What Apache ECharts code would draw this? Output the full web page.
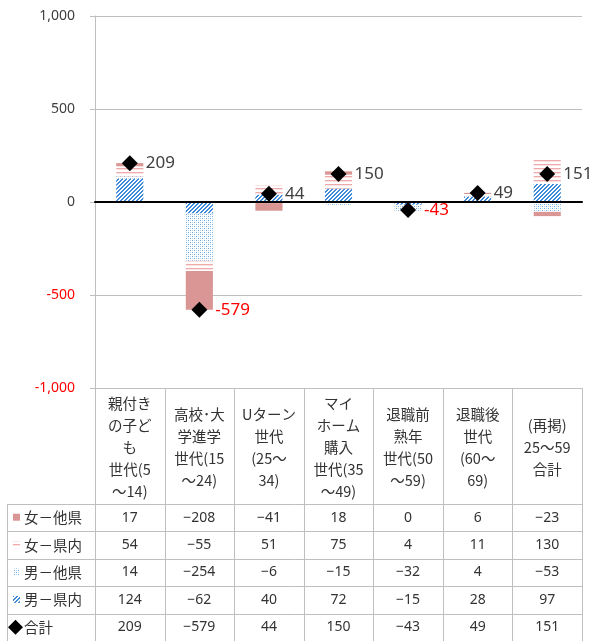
<!DOCTYPE html>
<html>
<head>
<meta charset="utf-8">
<script src="https://cdn.jsdelivr.net/npm/echarts@6/dist/echarts.min.js"></script>
<style>
    html, body { margin: 0; padding: 0; background: #fff; }
    #main { width: 594px; height: 641px; }
</style>
</head>
<body>
<div id="main"></div>
<script>
    // 世代区分（表の見出し）
    const categories = [
        '親付き\nの子ど\nも\n世代(5\n～14)',
        '高校･大\n学進学\n世代(15\n～24)',
        'Uターン\n世代\n(25～\n34)',
        'マイ\nホーム\n購入\n世代(35\n～49)',
        '退職前\n熟年\n世代(50\n～59)',
        '退職後\n世代\n(60～\n69)',
        '(再掲)\n25～59\n合計'
    ];
    const femaleOther = [17, -208, -41, 18, 0, 6, -23];   // 女－他県
    const femaleIn    = [54, -55, 51, 75, 4, 11, 130];     // 女－県内
    const maleOther   = [14, -254, -6, -15, -32, 4, -53];  // 男－他県
    const maleIn      = [124, -62, 40, 72, -15, 28, 97];   // 男－県内
    const total       = [209, -579, 44, 150, -43, 49, 151]; // 合計
    const rowNames = ['女－他県', '女－県内', '男－他県', '男－県内', '合計'];

    const FONT = 'Noto Sans, Noto Sans CJK JP, sans-serif';
    const JP = 'Noto Sans CJK JP, sans-serif';

    // 柄（パターン）
    function makePattern(w, h, draw) {
        const c = document.createElement('canvas');
        c.width = w; c.height = h;
        const ctx = c.getContext('2d');
        ctx.fillStyle = '#fff';
        ctx.fillRect(0, 0, w, h);
        draw(ctx);
        return {image: c, repeat: 'repeat'};
    }
    const solidPink = '#D99694';
    const linesPink = makePattern(1, 4, ctx => {
        ctx.fillStyle = '#EEAAAA';
        ctx.fillRect(0, 0, 1, 1);
        ctx.fillStyle = '#FBE3E3';
        ctx.fillRect(0, 1, 1, 1);
    });
    const dotsBlue = makePattern(4, 4, ctx => {
        ctx.fillStyle = '#6AAAE6';
        ctx.fillRect(0, 0, 1, 1);
        ctx.fillRect(2, 2, 1, 1);
        ctx.fillStyle = '#BBD8F3';
        ctx.fillRect(2, 0, 1, 1);
        ctx.fillRect(0, 2, 1, 1);
    });
    const diagBlue = makePattern(4, 4, ctx => {
        ctx.fillStyle = '#3D8BDA';
        for (let x = 0; x < 4; x++) {
            for (let y = 0; y < 4; y++) {
                if ((x + y) % 4 < 2) ctx.fillRect(x, y, 1, 1);
            }
        }
    });

    const chart = echarts.init(document.getElementById('main'));

    function fmt(v) {
        return echarts.format.addCommas(v);
    }

    chart.setOption({
        animation: false,
        grid: {left: 95, right: 12, top: 16, bottom: 253},
        xAxis: {
            type: 'category',
            data: categories,
            axisLine: {onZero: true, lineStyle: {color: '#000', width: 2}},
            axisTick: {show: false},
            axisLabel: {show: false},
            z: 5
        },
        yAxis: {
            type: 'value',
            min: -1000,
            max: 1000,
            interval: 500,
            axisLine: {show: true, lineStyle: {color: '#BFBFBF'}},
            axisTick: {show: true, length: 5, lineStyle: {color: '#BFBFBF'}},
            splitLine: {lineStyle: {color: '#BFBFBF'}},
            axisLabel: {
                margin: 20,
                fontFamily: FONT,
                fontSize: 14,
                formatter: v => v < 0 ? '{r|' + fmt(v) + '}' : '{b|' + fmt(v) + '}',
                rich: {
                    r: {color: '#FF0000', fontSize: 14, fontFamily: FONT},
                    b: {color: '#404040', fontSize: 14, fontFamily: FONT}
                }
            }
        },
        series: [
            {name: '男－県内', type: 'bar', stack: 'a', barWidth: '39%', data: maleIn, itemStyle: {color: diagBlue}},
            {name: '男－他県', type: 'bar', stack: 'a', data: maleOther, itemStyle: {color: dotsBlue}},
            {name: '女－県内', type: 'bar', stack: 'a', data: femaleIn, itemStyle: {color: linesPink}},
            {name: '女－他県', type: 'bar', stack: 'a', data: femaleOther, itemStyle: {color: solidPink}},
            {
                name: '合計',
                type: 'line',
                z: 10,
                lineStyle: {width: 0, opacity: 0},
                symbol: 'diamond',
                symbolSize: 16,
                itemStyle: {color: '#000'},
                label: {
                    show: true,
                    position: 'right',
                    distance: 8,
                    fontFamily: FONT,
                    fontSize: 17
                },
                data: total.map(v => ({value: v, label: {color: v < 0 ? '#FF0000' : '#404040'}}))
            }
        ]
    });

    // データテーブル
    function drawTable() {
        const xs = categories.map((c, i) => chart.convertToPixel({xAxisIndex: 0}, i));
        const bw = xs[1] - xs[0];
        const left = xs[0] - bw / 2;
        const right = xs[xs.length - 1] + bw / 2;
        const top = chart.convertToPixel({yAxisIndex: 0}, -1000);
        const headBottom = 504;
        const rowH = 27.4;
        const bottom = 641;
        const labelLeft = 7;
        const lineColor = '#BFBFBF';
        const els = [];

        for (let i = 0; i <= categories.length; i++) {
            const x = Math.round(left + i * bw) + 0.5;
            els.push({type: 'line', shape: {x1: x, y1: top, x2: x, y2: bottom}, style: {stroke: lineColor, lineWidth: 1}});
        }
        els.push({type: 'line', shape: {x1: labelLeft + 0.5, y1: headBottom, x2: labelLeft + 0.5, y2: bottom}, style: {stroke: lineColor, lineWidth: 1}});
        for (let r = 0; r < rowNames.length; r++) {
            const y = Math.round(headBottom + r * rowH) + 0.5;
            els.push({type: 'line', shape: {x1: labelLeft, y1: y, x2: right, y2: y}, style: {stroke: lineColor, lineWidth: 1}});
        }

        // 見出し
        categories.forEach((c, i) => {
            els.push({
                type: 'text',
                x: xs[i], y: (top + headBottom) / 2 + 1,
                style: {text: c, fontFamily: JP, fontSize: 14.5, lineHeight: 22, fill: '#333', align: 'center', verticalAlign: 'middle'}
            });
        });

        const rows = [femaleOther, femaleIn, maleOther, maleIn, total];
        const keys = [solidPink, linesPink, dotsBlue, diagBlue, null];
        rows.forEach((vals, r) => {
            const cy = headBottom + r * rowH + rowH / 2;
            vals.forEach((v, i) => {
                els.push({
                    type: 'text',
                    x: xs[i], y: cy,
                    style: {text: String(v).replace('-', '−'), fontFamily: FONT, fontSize: 14, fill: '#333', align: 'center', verticalAlign: 'middle'}
                });
            });
            if (keys[r]) {
                els.push({type: 'rect', shape: {x: 13, y: cy - 4, width: 7, height: 7}, style: {fill: keys[r]}});
            } else {
                els.push({type: 'polygon', shape: {points: [[15.5, cy - 7.5], [23, cy], [15.5, cy + 7.5], [8, cy]]}, style: {fill: '#000'}});
            }
            els.push({type: 'text', x: 24, y: cy, style: {text: rowNames[r], fontFamily: JP, fontSize: 14.5, fill: '#333', align: 'left', verticalAlign: 'middle'}});
        });

        chart.setOption({graphic: {elements: els}});
    }
    drawTable();
</script>
</body>
</html>
